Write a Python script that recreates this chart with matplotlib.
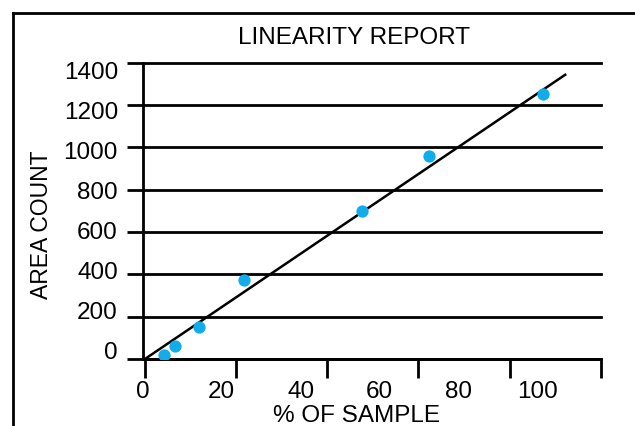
import matplotlib
matplotlib.use("Agg")
from matplotlib import pyplot as plt
from matplotlib.lines import Line2D
import numpy as np

plt.rcParams['font.family'] = ['Liberation Sans', 'DejaVu Sans']

pct_sample = [4.1, 6.6, 11.9, 21.8, 47.7, 62.3, 87.4]
area_count = [20, 63, 153, 373, 699, 959, 1254]
fit_x = [0, 92.2]
fit_y = [0, 1343]
x_ticks = [0, 20, 40, 60, 80, 100]
y_ticks = [0, 200, 400, 600, 800, 1000, 1200, 1400]

fig = plt.figure(figsize=(6.35, 4.26), dpi=100)
ax = fig.add_axes([0.2247, 0.1573, 0.7213, 0.6955])

ax.plot(fit_x, fit_y, color="black", lw=1.8, zorder=3)
ax.scatter(pct_sample, area_count, s=78, color="#10aceb", zorder=4, linewidths=0)

ax.set_xlim(0, 100)
ax.set_ylim(0, 1400)
for s in ["top", "right"]:
    ax.spines[s].set_visible(False)
for s in ["left", "bottom"]:
    ax.spines[s].set_linewidth(2)

# tick marks and grid on the real values
ax.set_xticks(x_ticks, labels=[])
ax.set_yticks(y_ticks, labels=[])
ax.yaxis.grid(True, color="black", lw=2)
for gl in ax.get_ygridlines():
    gl.set_clip_on(False)
ax.tick_params(axis="x", which="major", length=13.7, width=2, direction="out")
ax.tick_params(axis="y", which="major", length=11.5, width=2, direction="out")

# the printed labels sit a little off the ticks in the original
ax.set_xticks([v * 0.867 - 0.5 for v in x_ticks], labels=[str(v) for v in x_ticks], minor=True)
ax.set_yticks([v * 0.946 + 38 for v in y_ticks], labels=[str(v) for v in y_ticks], minor=True)
ax.tick_params(axis="x", which="minor", length=0, pad=15.5, labelsize=17.5)
ax.tick_params(axis="y", which="minor", length=0, pad=17.8, labelsize=17.5)

fig.text(354.5 / 635, 1 - 44 / 426, "LINEARITY REPORT", fontsize=17.5,
         ha="center", va="baseline")
fig.text(356.5 / 635, 1 - 422 / 426, "% OF SAMPLE", fontsize=17.5,
         ha="center", va="baseline")
fig.text(48 / 635, 1 - 225 / 426, "AREA COUNT", fontsize=16.5, rotation=90,
         rotation_mode="anchor", ha="center", va="baseline")

# frame round the figure (left and top only)
top = 1 - 12.7 / 426
left = 12.5 / 635
fig.add_artist(Line2D([left, left], [0, top], color="black", lw=2))
fig.add_artist(Line2D([left, 1], [top, top], color="black", lw=2))

fig.savefig("out.png", dpi=100)
